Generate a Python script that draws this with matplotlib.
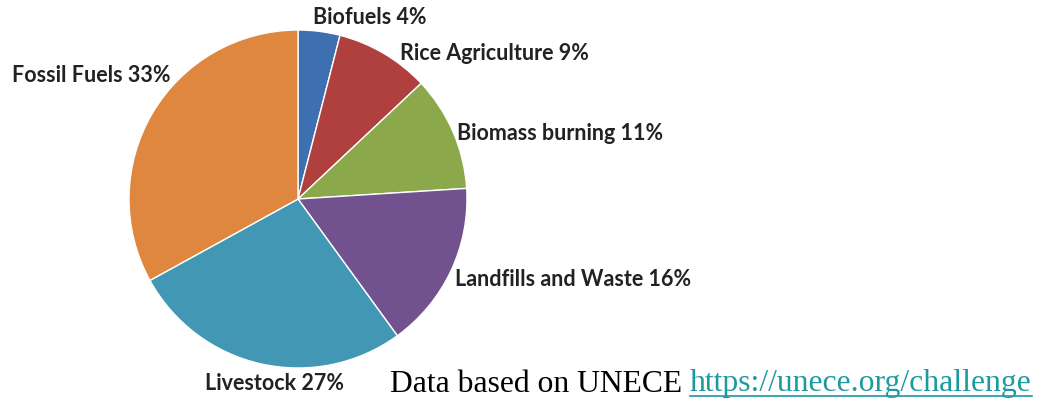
import matplotlib
matplotlib.use("Agg")
import matplotlib.pyplot as plt

# Methane emission sources (share of total, %)
sources = ["Biofuels", "Rice Agriculture", "Biomass burning",
           "Landfills and Waste", "Livestock", "Fossil Fuels"]
shares = [4, 9, 11, 16, 27, 33]
colors = ["#3d6fb1", "#b0403e", "#8ba94b", "#71528f", "#4298b4", "#df873f"]

W, H = 1043, 405
fig = plt.figure(figsize=(W / 100, H / 100), dpi=100)
fig.patch.set_facecolor("white")

# pie centre and radius in pixels
cx, cy, r = 298, 199, 169
ax = fig.add_axes([(cx - r) / W, (H - cy - r) / H, 2 * r / W, 2 * r / H])
ax.pie(shares, colors=colors, startangle=90, counterclock=False,
       wedgeprops=dict(edgecolor="white", linewidth=1.0))
ax.set_xlim(-1, 1)
ax.set_ylim(-1, 1)
ax.set_aspect("equal")
ax.axis("off")

# label anchors: left edge x, vertical centre y (pixels from top-left)
label_pos = [(313, 18), (400, 53), (457, 133), (455, 280), (205, 383), (12, 76)]
for name, val, (lx, ly) in zip(sources, shares, label_pos):
    fig.text(lx / W, 1 - ly / H, f"{name} {val}%", ha="left", va="center",
             fontsize=15.5, fontfamily="Lato", fontweight="bold", color="#222222")

# source caption followed by an underlined link
cap = fig.text(390 / W, 1 - 384 / H, "Data based on UNECE ", ha="left",
               va="center", fontsize=22.8, fontfamily="Liberation Serif",
               color="black")
fig.canvas.draw()
bb = cap.get_window_extent()
lnk = fig.text(bb.x1 / W, 1 - 384 / H, "https://unece.org/challenge", ha="left",
               va="center", fontsize=22.8, fontfamily="Liberation Serif",
               color="#1b9aa0")
fig.canvas.draw()
lb = lnk.get_window_extent()
fig.add_artist(plt.Line2D([lb.x0 / W, lb.x1 / W], [(lb.y0 + 3) / H, (lb.y0 + 3) / H],
                          color="#1b9aa0", linewidth=1.2))

fig.savefig("out.png", dpi=100, facecolor="white")
